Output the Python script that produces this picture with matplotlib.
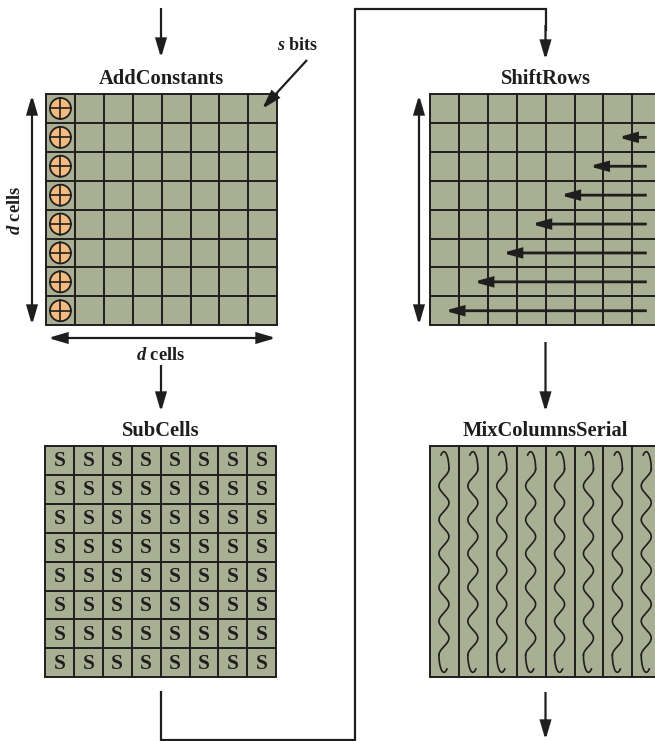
import numpy as np
import matplotlib.pyplot as plt
from matplotlib.patches import Rectangle, Circle, FancyArrowPatch

plt.rcParams['font.family'] = 'Liberation Serif'
plt.rcParams['mathtext.fontset'] = 'custom'
plt.rcParams['mathtext.it'] = 'Liberation Serif:italic:bold'
plt.rcParams['mathtext.rm'] = 'Liberation Serif:bold'

# state layout
d = 8
titles = ['AddConstants', 'ShiftRows', 'SubCells', 'MixColumnsSerial']
shifts = [0, 1, 2, 3, 4, 5, 6, 7]          # left rotation of each row
sbox_label = 'S'

FILL = '#a9af93'
XOR = '#f5ba7f'
INK = '#1e1e1e'

# grid origins (left, top) in pixels, cell size
cell = 28.9
origins = {'AddConstants': (46, 94), 'ShiftRows': (430, 94),
           'SubCells': (45, 446), 'MixColumnsSerial': (430, 446)}

fig = plt.figure(figsize=(6.55, 7.41), dpi=100)
ax = fig.add_axes([0, 0, 1, 1])
ax.set_xlim(0, 655)
ax.set_ylim(741, 0)
ax.axis('off')

DOUBLE = '<|-|>,head_length=0.75,head_width=0.22'


def arrow(p0, p1, lw=1.6, ms=15, style='-|>,head_length=0.75,head_width=0.22'):
    ax.add_patch(FancyArrowPatch(p0, p1, arrowstyle=style, mutation_scale=ms,
                                 lw=lw, color=INK, shrinkA=0, shrinkB=0,
                                 joinstyle='miter', capstyle='butt'))


def grid(name, rows=True):
    x0, y0 = origins[name]
    w = d * cell
    ax.add_patch(Rectangle((x0, y0), w, w, facecolor=FILL, edgecolor=INK, lw=1.4))
    for i in range(1, d):
        ax.plot([x0 + i * cell] * 2, [y0, y0 + w], color=INK, lw=1.4)
        if rows:
            ax.plot([x0, x0 + w], [y0 + i * cell] * 2, color=INK, lw=1.4)
    ax.text(x0 + w / 2, y0 - 15, name, ha='center', va='center',
            fontsize=14.8, fontweight='bold', color=INK)
    return x0, y0, w


def bezier(p0, p1, p2, p3, n=40):
    t = np.linspace(0, 1, n)[:, None]
    pts = ((1 - t) ** 3 * np.array(p0) + 3 * (1 - t) ** 2 * t * np.array(p1)
           + 3 * (1 - t) * t ** 2 * np.array(p2) + t ** 3 * np.array(p3))
    return pts[:, 0], pts[:, 1]


# AddConstants
x0, y0, w = grid('AddConstants')
for r in range(d):
    cx, cy = x0 + cell / 2, y0 + (r + 0.5) * cell
    rad = 10.5
    ax.add_patch(Circle((cx, cy), rad, facecolor=XOR, edgecolor=INK, lw=1.3))
    ax.plot([cx - rad, cx + rad], [cy, cy], color=INK, lw=1.2)
    ax.plot([cx, cx], [cy - rad, cy + rad], color=INK, lw=1.2)
arrow((161, 8), (161, 58))
ax.text(298, 45, r'$s$ bits', ha='center', va='center', fontsize=13,
        fontweight='bold', color=INK)
arrow((307, 60), (262, 109))
arrow((32, 325), (32, 95), style=DOUBLE)
ax.text(15, 210, r'$d$ cells', ha='center', va='center', rotation=90,
        fontsize=13.3, fontweight='bold', color=INK)
arrow((48, 338), (276, 338), style=DOUBLE)
ax.text(161, 355, r'$d$ cells', ha='center', va='center', fontsize=13.3,
        fontweight='bold', color=INK)
arrow((161, 365), (161, 412))

# SubCells
x0, y0, w = grid('SubCells')
for r in range(d):
    for c in range(d):
        ax.text(x0 + (c + 0.5) * cell, y0 + (r + 0.5) * cell + 1, sbox_label,
                ha='center', va='center', fontsize=15.5, fontweight='bold',
                color=INK)

# connector SubCells -> ShiftRows
ax.plot([161, 161, 355, 355, 545.5, 545.5], [692, 740, 740, 9, 9, 30],
        color=INK, lw=1.6, solid_joinstyle='miter')
arrow((545.5, 25), (545.5, 60))

# ShiftRows
x0, y0, w = grid('ShiftRows')
for r, s in enumerate(shifts):
    if s == 0:
        continue
    cy = y0 + (r + 0.5) * cell
    arrow((x0 + (d - 0.5) * cell, cy), (x0 + (d - 0.5 - s) * cell, cy), lw=2.0,
          ms=13, style='-|>,head_length=0.8,head_width=0.22')
arrow((419, 325), (419, 95), style=DOUBLE)
arrow((545.5, 342), (545.5, 412))

# MixColumnsSerial: wavy line in every column, hooked at both ends
x0, y0, w = grid('MixColumnsSerial', rows=False)
amp, y_a, y_b = 5.0, 469, 655
yy = np.linspace(y_a, y_b, 400)
ym = (y_a + y_b) / 2
for c in range(d):
    cx = x0 + (c + 0.5) * cell - 0.5
    xx = cx + amp * np.cos(5.5 * np.pi * 2 * (yy - y_a) / (y_b - y_a))
    hx, hy = bezier((cx + amp, y_a), (cx + amp, y_a - 12),
                    (cx + 1, y_a - 23), (cx - 3, y_a - 14))
    ax.plot(hx, hy, color=INK, lw=1.2)
    ax.plot(2 * cx - hx, 2 * ym - hy, color=INK, lw=1.2)
    ax.plot(xx, yy, color=INK, lw=1.2)
arrow((545.5, 692), (545.5, 740))

fig.savefig('out.png', dpi=100)
